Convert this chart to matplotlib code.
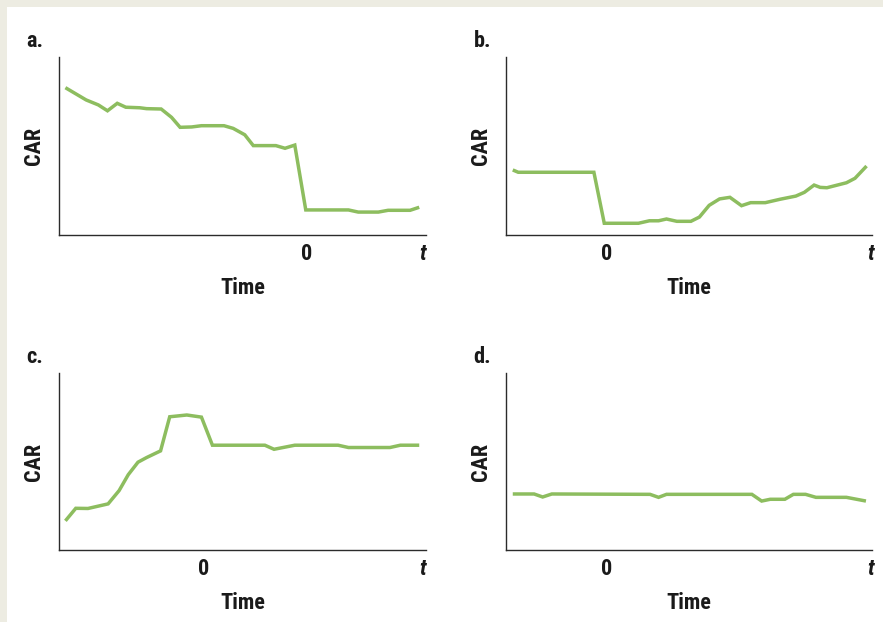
import matplotlib
matplotlib.use("Agg")
import matplotlib.pyplot as plt
from matplotlib import font_manager
from matplotlib.patches import Rectangle

# Cumulative abnormal returns around an event (day 0), four stylised patterns
a_days = [-39.6, -36.2, -34.2, -32.7, -31.1, -29.7, -27.4, -26.3, -23.9, -22.2,
          -20.8, -18.9, -17.3, -13.6, -12.1, -10.2, -8.8, -5.1, -3.6, -2.0,
          -0.2, 6.8, 8.4, 11.7, 13.3, 16.9, 18.4]
a_car = [8.29, 7.60, 7.32, 6.99, 7.41, 7.19, 7.16, 7.11, 7.09, 6.62,
         6.06, 6.08, 6.15, 6.15, 6.00, 5.64, 5.03, 5.03, 4.88, 5.06,
         1.41, 1.41, 1.29, 1.29, 1.39, 1.39, 1.56]

b_days = [-15.4, -14.5, -2.1, -0.4, 5.2, 7.0, 8.5, 9.8, 11.5, 13.8, 15.2, 16.8,
          18.5, 20.2, 22.1, 23.6, 26.0, 28.4, 31.0, 32.4, 34.0, 35.0, 36.1,
          39.3, 40.7, 42.6]
b_car = [3.66, 3.53, 3.53, 0.66, 0.66, 0.80, 0.80, 0.90, 0.77, 0.77, 1.01, 1.67,
         2.03, 2.12, 1.65, 1.82, 1.82, 2.01, 2.19, 2.40, 2.81, 2.68, 2.66,
         2.94, 3.19, 3.88]

c_days = [-22.6, -20.9, -18.9, -15.6, -13.8, -12.3, -10.7, -9.3, -7.0, -5.5,
          -2.7, -0.3, 1.5, 10.1, 11.6, 15.0, 22.1, 23.8, 30.6, 32.3, 35.4]
c_car = [1.65, 2.36, 2.35, 2.61, 3.36, 4.26, 4.97, 5.23, 5.61, 7.54,
         7.64, 7.52, 5.93, 5.93, 5.70, 5.93, 5.93, 5.80, 5.80, 5.93, 5.93]

d_days = [-15.4, -11.9, -10.5, -9.0, 7.1, 8.5, 9.8, 23.8, 25.4, 26.8, 29.2,
          30.6, 32.6, 34.3, 39.3, 42.5]
d_car = [3.17, 3.17, 3.00, 3.17, 3.15, 2.98, 3.15, 3.15, 2.77, 2.87, 2.87,
         3.15, 3.15, 2.98, 2.98, 2.77]

panel_letters = ["a.", "b.", "c.", "d."]
tick_labels = ["0", "t"]
x_label = "Time"
y_label = "CAR"

LINE = "#8dbd5f"
AXIS = "#2b2b2b"
INK = "#1a1a1a"
FS = 16

# Prefer a narrow bold face; otherwise use the condensed cut of DejaVu Sans
installed = {f.name for f in font_manager.fontManager.ttflist}
narrow = [n for n in ("Roboto Condensed", "Liberation Sans Narrow",
                      "Open Sans Condensed", "Arial Narrow") if n in installed]
if narrow:
    TEXT_KW = dict(family=[narrow[0], "DejaVu Sans"], fontweight="bold")
else:
    TEXT_KW = dict(family=["DejaVu Sans"], fontweight="bold",
                   fontstretch="condensed")

W, H = 883, 622
fig = plt.figure(figsize=(W / 100, H / 100), dpi=100, facecolor="#edece2")
fig.patches.append(Rectangle((7 / W, 0), 1 - 7 / W, 1 - 7 / H,
                             transform=fig.transFigure, facecolor="white",
                             edgecolor="none", zorder=-10))


def px_axes(left, top, right, bottom):
    return fig.add_axes([left / W, 1 - bottom / H, (right - left) / W,
                         (bottom - top) / H])


panels = [
    (a_days, a_car, (59.3, 57.3, 425.7, 235.0), (-40.6, 19.46), 19.0),
    (b_days, b_car, (506.3, 57.3, 872.3, 235.0), (-16.46, 43.54), 43.28),
    (c_days, c_car, (59.3, 373.3, 425.7, 550.0), (-23.6, 36.46), 36.0),
    (d_days, d_car, (506.3, 373.3, 872.3, 550.0), (-16.46, 43.54), 43.28),
]

for letter, (days, car, box, xlim, t_end) in zip(panel_letters, panels):
    ax = px_axes(*box)
    ax.set_facecolor("none")
    ax.plot(days, car, color=LINE, lw=2.5, solid_joinstyle="miter",
            solid_capstyle="butt", clip_on=False)
    ax.set_xlim(*xlim)
    ax.set_ylim(0, 10)
    for side in ("top", "right"):
        ax.spines[side].set_visible(False)
    for side in ("left", "bottom"):
        ax.spines[side].set_color(AXIS)
        ax.spines[side].set_linewidth(1.0)
    ax.set_yticks([])
    ax.set_xticks([0, t_end])
    ax.set_xticklabels(tick_labels, fontsize=FS, color=INK, **TEXT_KW)
    ax.get_xticklabels()[1].set_fontstyle("italic")
    ax.tick_params(axis="x", length=0, pad=6)

    ax.set_xlabel(x_label, fontsize=FS, color=INK, va="center", **TEXT_KW)
    ax.xaxis.set_label_coords(0.5, -0.298)
    ax.set_ylabel(y_label, fontsize=FS, color=INK, va="center", **TEXT_KW)
    ax.yaxis.set_label_coords(-0.069, 0.5)
    ax.text(-0.066, 1.092, letter, transform=ax.transAxes, ha="center",
            va="center", fontsize=FS, color=INK, **TEXT_KW)

fig.savefig("out.png", dpi=100, facecolor=fig.get_facecolor())
